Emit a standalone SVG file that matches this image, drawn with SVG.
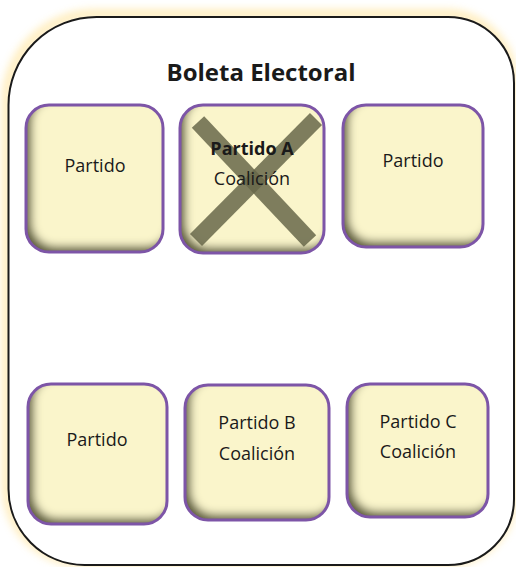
<svg xmlns="http://www.w3.org/2000/svg" width="516" height="567" viewBox="0 0 516 567">
<defs>
<filter id="glow" x="-10%" y="-10%" width="120%" height="120%">
<feGaussianBlur stdDeviation="5"/>
</filter>
<filter id="inner" x="-10%" y="-10%" width="120%" height="120%">
<feFlood flood-color="#5e5e3a" result="c"/>
<feComposite in="c" in2="SourceAlpha" operator="out" result="outside"/>
<feOffset in="outside" dx="6" dy="-6" result="o"/>
<feGaussianBlur in="o" stdDeviation="4" result="b"/>
<feComposite in="b" in2="SourceAlpha" operator="in" result="s"/>
<feMerge><feMergeNode in="SourceGraphic"/><feMergeNode in="s"/></feMerge>
</filter>
</defs>
<style>
.fill{fill:#faf5cb;filter:url(#inner)}
.edge{fill:none;stroke:#7d55a7;stroke-width:3}
.t{font-family:"Open Sans",sans-serif;font-size:18px;fill:#1a1a1a;text-anchor:middle}
.b{font-weight:bold}
.title{font-family:"Open Sans",sans-serif;font-size:24px;font-weight:bold;fill:#1a1a1a;text-anchor:middle}
.x{stroke:#67674a;stroke-width:17;stroke-opacity:0.85;fill:none}
</style>
<rect width="516" height="567" fill="#ffffff"/>
<g id="ballot">
<path d="M96.5,17 H448 A66,66 0 0 1 514,83 V499 A66,66 0 0 1 448,565 H84.5 A76,76 0 0 1 8.5,489 V105 A88,88 0 0 1 96.5,17 Z" fill="none" stroke="#ffd76a" stroke-width="6" opacity="0.7" filter="url(#glow)" transform="translate(-2,-3)"/>
<path d="M96.5,17 H448 A66,66 0 0 1 514,83 V499 A66,66 0 0 1 448,565 H84.5 A76,76 0 0 1 8.5,489 V105 A88,88 0 0 1 96.5,17 Z" fill="#ffffff" stroke="#1a1a1a" stroke-width="2"/>
<text class="title" x="261" y="81">Boleta Electoral</text>
</g>
<g id="node1">
<rect class="fill" x="26" y="105" width="137" height="147" rx="23"/>
<rect class="edge" x="26" y="105" width="137" height="147" rx="23"/>
<text class="t" x="95" y="172">Partido</text>
</g>
<g id="node2">
<rect class="fill" x="180" y="105" width="144" height="148" rx="23"/>
<rect class="edge" x="180" y="105" width="144" height="148" rx="23"/>
<line class="x" x1="198" y1="122" x2="310" y2="241"/>
<line class="x" x1="316" y1="119" x2="196" y2="240"/>
<text class="t b" x="252" y="155">Partido A</text>
<text class="t" x="252" y="185">Coalición</text>
</g>
<g id="node3">
<rect class="fill" x="343" y="105" width="140" height="142" rx="23"/>
<rect class="edge" x="343" y="105" width="140" height="142" rx="23"/>
<text class="t" x="413" y="167">Partido</text>
</g>
<g id="node4">
<rect class="fill" x="28" y="384" width="139" height="140" rx="23"/>
<rect class="edge" x="28" y="384" width="139" height="140" rx="23"/>
<text class="t" x="97" y="446">Partido</text>
</g>
<g id="node5">
<rect class="fill" x="185" y="385" width="144" height="135" rx="23"/>
<rect class="edge" x="185" y="385" width="144" height="135" rx="23"/>
<text class="t" x="257" y="429">Partido B</text>
<text class="t" x="257" y="460">Coalición</text>
</g>
<g id="node6">
<rect class="fill" x="347" y="384" width="141" height="133" rx="23"/>
<rect class="edge" x="347" y="384" width="141" height="133" rx="23"/>
<text class="t" x="418" y="428">Partido C</text>
<text class="t" x="418" y="458">Coalición</text>
</g>
<g id="connectors"></g>
</svg>
